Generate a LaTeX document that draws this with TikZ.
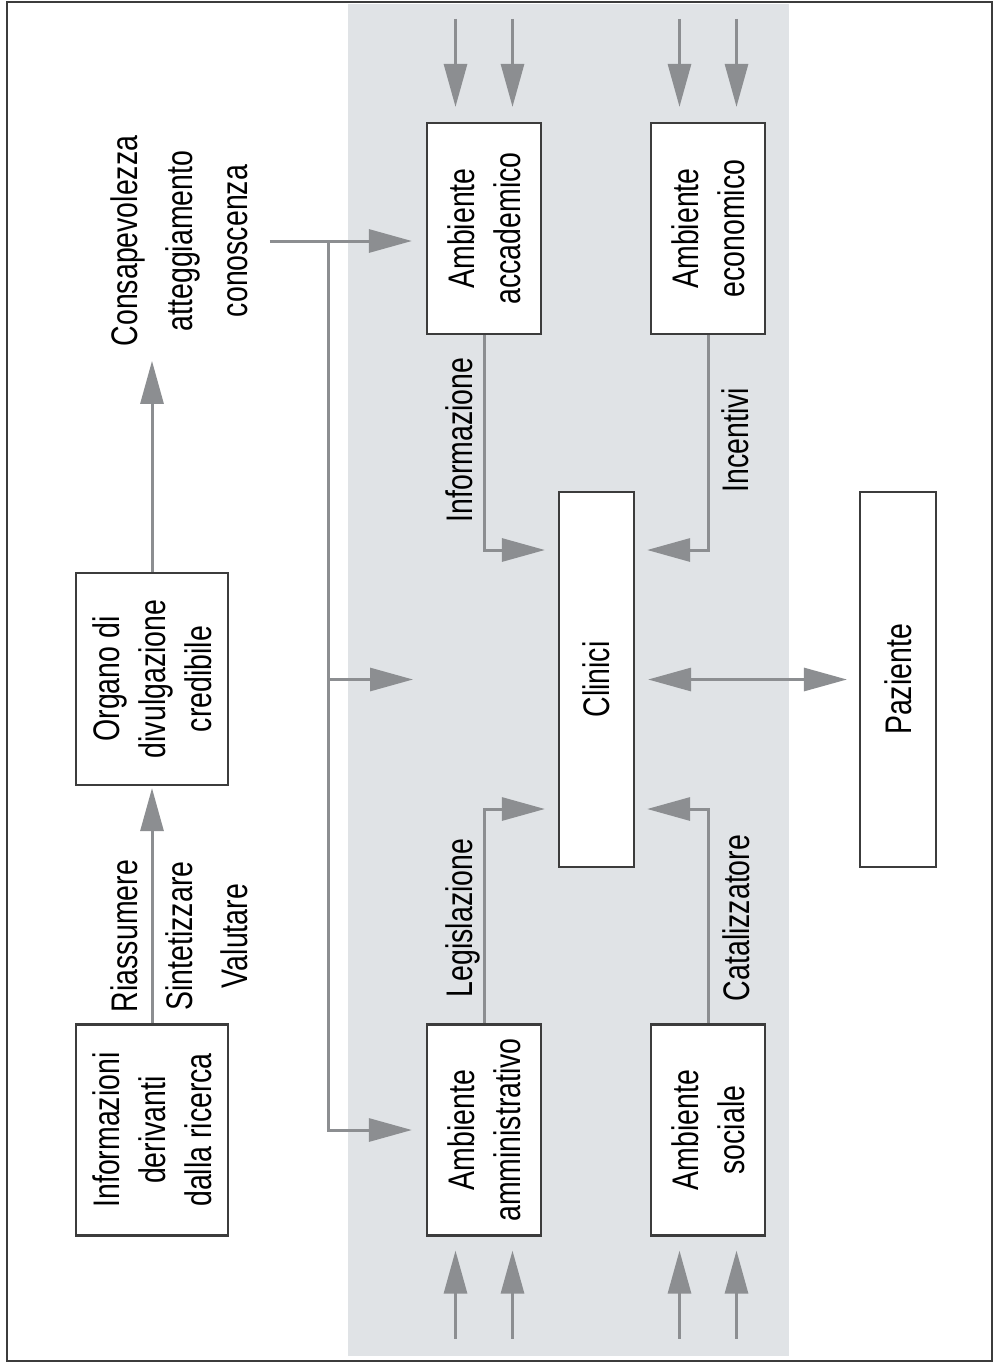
\documentclass[tikz,border=0pt]{standalone}
\usepackage{fontspec}
\setmainfont{Liberation Sans}[FakeStretch=0.77]
\usetikzlibrary{arrows.meta,calc}
\definecolor{band}{RGB}{224,227,230}
\definecolor{arrgray}{RGB}{140,142,145}
\definecolor{boxline}{RGB}{60,60,60}
\begin{document}
\begin{tikzpicture}[x=1pt,y=-1pt,
  box/.style={draw=boxline, line width=2.2pt, fill=white, rotate=90, align=center, inner sep=0pt, font=\fontsize{37}{46}\selectfont},
  lbl/.style={rotate=90, align=center, inner sep=0pt, font=\fontsize{37}{55}\selectfont},
  arr/.style={draw=arrgray, line width=3pt, -{Triangle[length=43pt,width=23pt]}},
  dbl/.style={draw=arrgray, line width=3pt, {Triangle[length=43pt,width=23pt]}-{Triangle[length=43pt,width=23pt]}}]
\useasboundingbox (0,0) rectangle (999,1365);
\fill[white] (0,0) rectangle (999,1365);
\fill[band] (348,4) rectangle (789,1356);
\draw[boxline, line width=2pt] (7,2) rectangle (992,1361);

% boxes
\node[box, minimum width=211pt, minimum height=114pt] (acc) at (484,228.5) {Ambiente\\accademico};
\node[box, minimum width=211pt, minimum height=114pt] (eco) at (708,228.5) {Ambiente\\economico};
\node[box, minimum width=211pt, minimum height=114pt] (amm) at (484,1130) {Ambiente\\amministrativo};
\node[box, minimum width=211pt, minimum height=114pt] (soc) at (708,1130) {Ambiente\\sociale};
\node[box, minimum width=375pt, minimum height=75pt] (cli) at (596.5,679.5) {Clinici};
\node[box, minimum width=375pt, minimum height=76pt] (paz) at (898,679.5) {Paziente};
\node[box, minimum width=211pt, minimum height=152pt] (inf) at (152,1130) {Informazioni\\derivanti\\dalla ricerca};
\node[box, minimum width=212pt, minimum height=152pt] (org) at (152,679) {Organo di\\divulgazione\\credibile};

% free labels
\node[lbl] (cons) at (179,241) {Consapevolezza\\atteggiamento\\conoscenza};
\node[lbl] (proc) at (179.5,936) {Riassumere\\Sintetizzare\\Valutare};
\node[lbl, anchor=base] (linf) at (472,440) {Informazione};
\node[lbl, anchor=base] (linc) at (748,440) {Incentivi};
\node[lbl, anchor=base] (lleg) at (472,918) {Legislazione};
\node[lbl, anchor=base] (lcat) at (749,918) {Catalizzatore};

% incoming arrows from outside
\foreach \n in {acc,eco}{
  \draw[arr, shorten >=15pt] ([shift={(-28.5pt,103pt)}]\n.east) -- ([xshift=-28.5pt]\n.east);
  \draw[arr, shorten >=15pt] ([shift={(28.5pt,103pt)}]\n.east) -- ([xshift=28.5pt]\n.east);
}
\foreach \n in {amm,soc}{
  \draw[arr, shorten >=14pt] ([shift={(-28.5pt,-102pt)}]\n.west) -- ([xshift=-28.5pt]\n.west);
  \draw[arr, shorten >=14pt] ([shift={(28.5pt,-102pt)}]\n.west) -- ([xshift=28.5pt]\n.west);
}

% environments to clinici
\draw[arr, shorten >=13pt] (acc.west) |- ([yshift=129.5pt]cli.north);
\draw[arr, shorten >=12pt] (eco.west) |- ([yshift=129.5pt]cli.south);
\draw[arr, shorten >=13pt] (amm.east) |- ([yshift=-129.5pt]cli.north);
\draw[arr, shorten >=12pt] (soc.east) |- ([yshift=-129.5pt]cli.south);
\draw[dbl, shorten <=13pt, shorten >=12pt] (cli.south) -- (paz.north);

% research chain
\draw[arr, shorten >=2pt] (inf.east) -- (org.west);
\draw[arr] (org.east) -- ([yshift=211pt]org.east);

% dissemination
\coordinate (tr) at (328,241);
\coordinate (midtip) at (413,679.5);
\draw[arr, shorten <=22pt, shorten >=14pt] (cons.south) -- (cons.south -| acc.north);
\draw[arr, shorten >=14pt] (tr) |- (amm.north);
\draw[arr] (tr |- cli.center) -- (midtip);
\end{tikzpicture}
\end{document}
